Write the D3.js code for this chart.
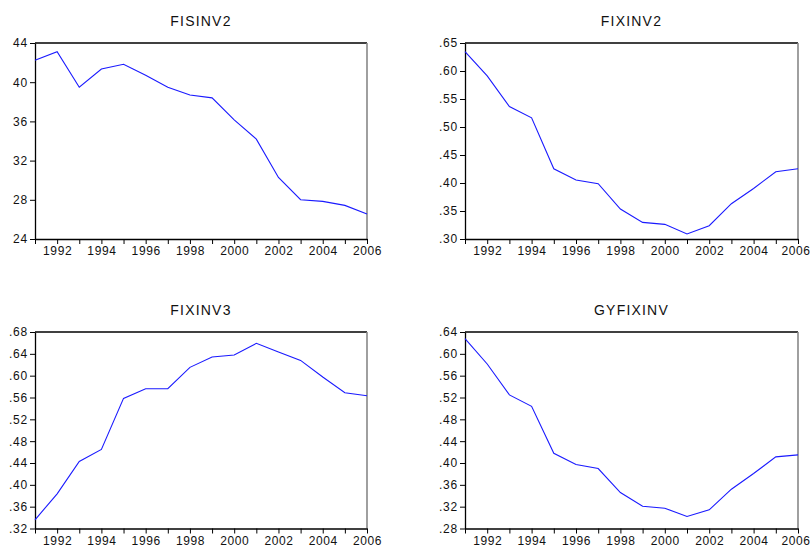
<!DOCTYPE html>
<html>
<head>
<meta charset="utf-8">
<script src="https://cdn.jsdelivr.net/npm/d3@7"></script>
<style>
  body { margin: 0; background: #fff; }
  svg { display: block; font-family: "Liberation Sans", Arial, sans-serif; }
</style>
</head>
<body>
<div id="chart"></div>
<script>
// years shared by all four panels
var years = d3.range(1991, 2007);

// series values
var fisinv2 = [42.23, 43.12, 39.48, 41.35, 41.83, 40.71, 39.48, 38.70, 38.40, 36.16, 34.19, 30.28, 28.01, 27.84, 27.43, 26.55];
var fixinv2 = [0.6345, 0.5912, 0.5365, 0.5163, 0.4254, 0.4052, 0.3987, 0.3535, 0.3297, 0.3262, 0.3089, 0.3238, 0.3630, 0.3903, 0.4200, 0.4254];
var fixinv3 = [0.3359, 0.3835, 0.4428, 0.4648, 0.5584, 0.5761, 0.5761, 0.6152, 0.6342, 0.6378, 0.6592, 0.6433, 0.6280, 0.5975, 0.5688, 0.5633];
var gyfixinv = [0.6278, 0.5814, 0.5247, 0.5039, 0.4179, 0.3972, 0.3898, 0.3459, 0.3209, 0.3172, 0.3020, 0.3142, 0.3520, 0.3807, 0.4112, 0.4149];

// y tick values per panel
var ticksFisinv2 = [24, 28, 32, 36, 40, 44];
var ticksFixinv2 = [0.30, 0.35, 0.40, 0.45, 0.50, 0.55, 0.60, 0.65];
var ticksFixinv3 = [0.32, 0.36, 0.40, 0.44, 0.48, 0.52, 0.56, 0.60, 0.64, 0.68];
var ticksGyfixinv = [0.28, 0.32, 0.36, 0.40, 0.44, 0.48, 0.52, 0.56, 0.60, 0.64];

var svgWidth = 811, svgHeight = 547;

var svg = d3.select("#chart")
    .append("svg")
    .attr("width", svgWidth)
    .attr("height", svgHeight);

// decimal labels without the leading zero, like ".65"
function dotFormat(d) {
    return d3.format(".2f")(d).replace(/^0/, "");
}

var panels = [
    {title: "FISINV2", values: fisinv2, ticks: ticksFisinv2, fmt: d3.format("d"), x0: 35, x1: 367, y0: 43, y1: 239},
    {title: "FIXINV2", values: fixinv2, ticks: ticksFixinv2, fmt: dotFormat, x0: 465, x1: 798, y0: 43, y1: 239},
    {title: "FIXINV3", values: fixinv3, ticks: ticksFixinv3, fmt: dotFormat, x0: 35, x1: 367, y0: 332, y1: 528.5},
    {title: "GYFIXINV", values: gyfixinv, ticks: ticksGyfixinv, fmt: dotFormat, x0: 465, x1: 798, y0: 332, y1: 528.5}
];

panels.forEach(function(p) {
    var g = svg.append("g");

    var x = d3.scaleLinear()
        .domain([1991, 2006])
        .range([p.x0, p.x1]);

    var y = d3.scaleLinear()
        .domain([p.ticks[0], p.ticks[p.ticks.length - 1]])
        .range([p.y1, p.y0]);

    // title
    g.append("text")
        .attr("x", (p.x0 + p.x1) / 2)
        .attr("y", p.y0 - 17)
        .attr("text-anchor", "middle")
        .attr("font-size", "14px")
        .attr("letter-spacing", "1.2px")
        .attr("fill", "#111")
        .text(p.title);

    // frame: black top, gray right side
    g.append("line")
        .attr("x1", p.x0).attr("x2", p.x1)
        .attr("y1", p.y0).attr("y2", p.y0)
        .attr("stroke", "#000").attr("stroke-width", 1.3);
    g.append("line")
        .attr("x1", p.x1).attr("x2", p.x1)
        .attr("y1", p.y0).attr("y2", p.y1)
        .attr("stroke", "#888").attr("stroke-width", 1.6);

    // bottom axis: tick every year, label every even year
    var bottomAxis = d3.axisBottom(x)
        .tickValues(years)
        .tickSize(5)
        .tickSizeOuter(0)
        .tickFormat(function(d) { return d % 2 === 0 ? d : ""; });

    var xg = g.append("g")
        .attr("transform", `translate(0, ${p.y1})`)
        .call(bottomAxis);
    xg.select(".domain").attr("stroke", "#000").attr("stroke-width", 1.3);
    xg.selectAll(".tick line").attr("stroke", "#000");
    xg.selectAll("text")
        .attr("font-size", "12px")
        .attr("font-family", "Liberation Sans, Arial, sans-serif")
        .attr("letter-spacing", "0.6px")
        .attr("fill", "#111")
        .attr("dy", "0.85em")
        .attr("y", 6);

    // keep the last year label inside the page on the right column
    if (p.x1 > 700) {
        xg.selectAll(".tick text")
            .filter(function(d) { return d === 2006; })
            .attr("text-anchor", "end")
            .attr("x", svgWidth - 1 - p.x1);
    }

    // left axis
    var leftAxis = d3.axisLeft(y)
        .tickValues(p.ticks)
        .tickSize(5)
        .tickSizeOuter(0)
        .tickFormat(p.fmt);

    var yg = g.append("g")
        .attr("transform", `translate(${p.x0}, 0)`)
        .call(leftAxis);
    yg.select(".domain").attr("stroke", "#000").attr("stroke-width", 1.3);
    yg.selectAll(".tick line").attr("stroke", "#000");
    yg.selectAll("text")
        .attr("font-size", "12px")
        .attr("font-family", "Liberation Sans, Arial, sans-serif")
        .attr("letter-spacing", "0.8px")
        .attr("fill", "#111")
        .attr("x", -7);

    // the series line
    var line = d3.line()
        .x(function(d, i) { return x(years[i]); })
        .y(function(d) { return y(d); });

    g.append("path")
        .datum(p.values)
        .attr("fill", "none")
        .attr("stroke", "#1a1aff")
        .attr("stroke-width", 1.1)
        .attr("d", line);
});
</script>
</body>
</html>
